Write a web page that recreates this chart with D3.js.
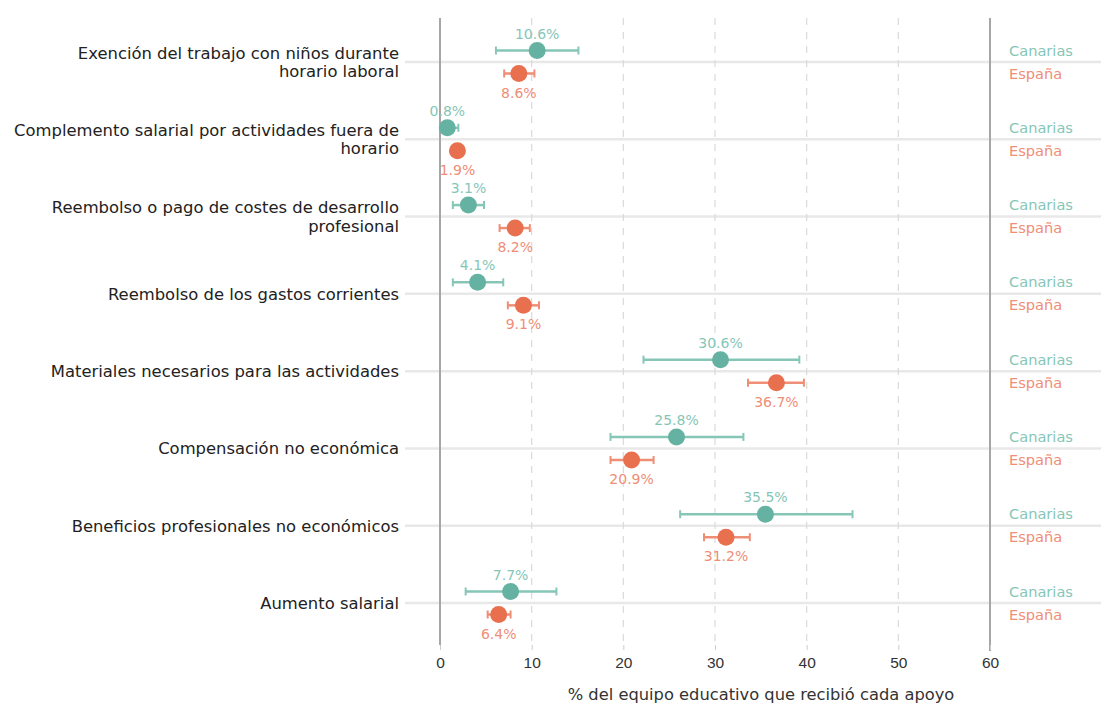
<!DOCTYPE html>
<html>
<head>
<meta charset="utf-8">
<script src="https://cdn.jsdelivr.net/npm/d3@7"></script>
<style>
  body { margin: 0; background: #fff; }
  svg { display: block; font-family: "DejaVu Sans", "Open Sans", sans-serif; }
</style>
</head>
<body>
<div id="chart"></div>
<script>
// categorías (de arriba a abajo)
const categories = [
  ["Exención del trabajo con niños durante", "horario laboral"],
  ["Complemento salarial por actividades fuera de", "horario"],
  ["Reembolso o pago de costes de desarrollo", "profesional"],
  ["Reembolso de los gastos corrientes"],
  ["Materiales necesarios para las actividades"],
  ["Compensación no económica"],
  ["Beneficios profesionales no económicos"],
  ["Aumento salarial"]
];
const canarias = [10.6, 0.8, 3.1, 4.1, 30.6, 25.8, 35.5, 7.7];
const canariasLow = [6.1, 0.1, 1.4, 1.4, 22.2, 18.6, 26.2, 2.8];
const canariasHigh = [15.1, 2.0, 4.8, 6.9, 39.2, 33.1, 45.0, 12.7];
const espana = [8.6, 1.9, 8.2, 9.1, 36.7, 20.9, 31.2, 6.4];
const espanaLow = [7.0, 1.5, 6.5, 7.4, 33.6, 18.6, 28.8, 5.2];
const espanaHigh = [10.3, 2.3, 9.8, 10.8, 39.7, 23.3, 33.8, 7.7];
const xTicks = [0, 10, 20, 30, 40, 50, 60];

const width = 1101, height = 704;
const margin = {top: 18, right: 111, bottom: 59, left: 440};

const svg = d3.select("#chart").append("svg")
  .attr("width", width).attr("height", height);

const x = d3.scaleLinear().domain([0, 60]).range([margin.left, width - margin.right]);
const y = d3.scalePoint()
  .domain(d3.range(categories.length))
  .range([62, 603]);

const teal = "#66b2a2", tealLight = "#86c6b7";
const orange = "#e8704f", orangeLight = "#ef8e76";
const off = 11.5;

// líneas horizontales por categoría
svg.append("g").selectAll("line")
  .data(d3.range(categories.length))
  .join("line")
    .attr("x1", 405).attr("x2", width)
    .attr("y1", d => y(d)).attr("y2", d => y(d))
    .attr("stroke", "#e8e8e8").attr("stroke-width", 2.5);

// rejilla vertical
const gridTop = 18, gridBottom = 645;
svg.append("g").selectAll("line")
  .data(xTicks.filter(t => t > 0 && t < 60))
  .join("line")
    .attr("x1", d => x(d)).attr("x2", d => x(d))
    .attr("y1", gridTop).attr("y2", gridBottom)
    .attr("stroke", "#dadada").attr("stroke-width", 1.2)
    .attr("stroke-dasharray", "7,7");

[0, 60].forEach(v => {
  svg.append("line")
    .attr("x1", x(v)).attr("x2", x(v))
    .attr("y1", gridTop).attr("y2", v === 60 ? 651 : gridBottom)
    .attr("stroke", "#a6a6a6").attr("stroke-width", 2);
});

// eje x
const xAxis = svg.append("g")
  .attr("transform", `translate(0,${gridBottom})`)
  .call(d3.axisBottom(x).tickValues(xTicks).tickSize(5).tickPadding(7));
xAxis.select(".domain").remove();
xAxis.selectAll(".tick line").attr("stroke", "#cccccc");
xAxis.selectAll("text").attr("font-size", 15.5).attr("fill", "#333").attr("font-family", "inherit");

svg.append("text")
  .attr("x", 761).attr("y", 700)
  .attr("text-anchor", "middle")
  .attr("font-size", 16.3).attr("fill", "#333")
  .text("% del equipo educativo que recibió cada apoyo");

// etiquetas de categoría
const catText = svg.append("g").selectAll("text")
  .data(categories)
  .join("text")
    .attr("x", 399)
    .attr("text-anchor", "end")
    .attr("font-size", 16.4).attr("fill", "#222");
catText.each(function(lines, i) {
  const t = d3.select(this);
  const y0 = lines.length === 1 ? y(i) + 6 : y(i) - 3.5;
  lines.forEach((ln, j) => {
    t.append("tspan").attr("x", 399).attr("y", y0 + j * 18.5).text(ln);
  });
});

// series
function drawSeries(vals, lo, hi, dy, col, colLight, above) {
  const g = svg.append("g");
  const idx = d3.range(vals.length);
  g.selectAll(".err").data(idx).join("line")
    .attr("x1", i => x(lo[i])).attr("x2", i => x(hi[i]))
    .attr("y1", i => y(i) + dy).attr("y2", i => y(i) + dy)
    .attr("stroke", colLight).attr("stroke-width", 2.5);
  ["lo", "hi"].forEach(k => {
    g.selectAll(".cap" + k).data(idx).join("line")
      .attr("x1", i => x(k === "lo" ? lo[i] : hi[i])).attr("x2", i => x(k === "lo" ? lo[i] : hi[i]))
      .attr("y1", i => y(i) + dy - 4).attr("y2", i => y(i) + dy + 4)
      .attr("stroke", colLight).attr("stroke-width", 2);
  });
  g.selectAll("circle").data(idx).join("circle")
    .attr("cx", i => x(vals[i])).attr("cy", i => y(i) + dy)
    .attr("r", 8.5).attr("fill", col);
  g.selectAll("text").data(idx).join("text")
    .attr("x", i => x(vals[i])).attr("y", i => y(i) + dy + (above ? -12 : 24))
    .attr("text-anchor", "middle")
    .attr("font-size", 14).attr("fill", colLight)
    .text(i => vals[i].toFixed(1) + "%");
  svg.append("g").selectAll("text").data(idx).join("text")
    .attr("x", 1009).attr("y", i => y(i) + dy + 5)
    .attr("font-size", 14.6).attr("fill", colLight)
    .text(above ? "Canarias" : "España");
}
drawSeries(canarias, canariasLow, canariasHigh, -off, teal, tealLight, true);
drawSeries(espana, espanaLow, espanaHigh, off, orange, orangeLight, false);
</script>
</body>
</html>
